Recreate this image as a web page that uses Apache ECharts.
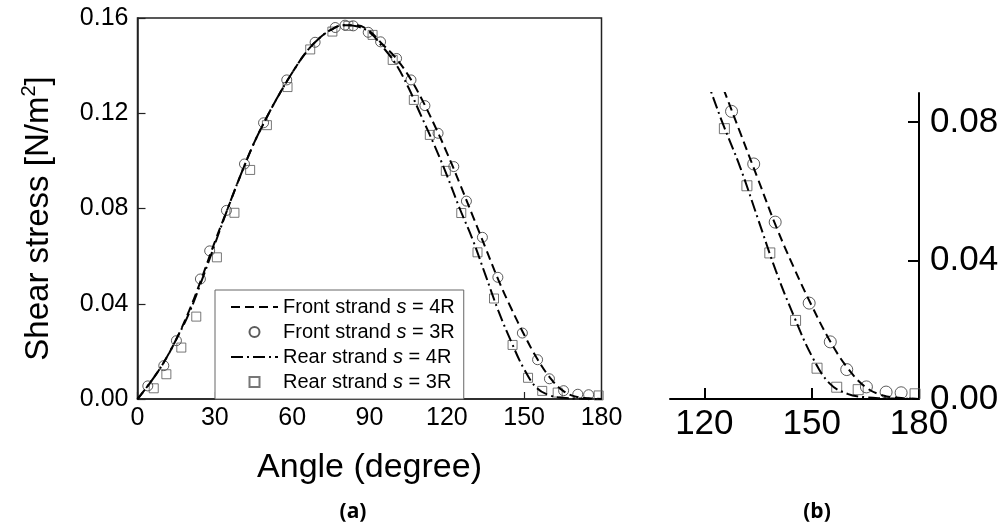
<!DOCTYPE html>
<html><head><meta charset="utf-8">
<script src="https://cdn.jsdelivr.net/npm/echarts@6/dist/echarts.min.js"></script>
<style>html,body{margin:0;padding:0;background:#fff}#c{width:1004px;height:527px}</style>
</head><body><div id="c"></div>
<script>
// ---- data ----
const curveAngles = [0,5,10,15,20,25,30,35,40,45,50,55,60,65,70,75,80,85,90,95,100,105,110,115,120,125,130,135,140,145,150,155,160,165,170,175,180];
const front4R = [0,0.007,0.015,0.025,0.037,0.051,0.066,0.080,0.094,0.107,0.118,0.128,0.137,0.145,0.151,0.155,0.157,0.157,0.1545,0.149,0.1435,0.136,0.1265,0.1155,0.1035,0.0905,0.077,0.0635,0.050,0.038,0.027,0.017,0.009,0.0035,0.001,0.0003,0];
const rear4R  = [0,0.007,0.015,0.025,0.036,0.050,0.065,0.080,0.094,0.107,0.118,0.128,0.137,0.145,0.151,0.155,0.157,0.1565,0.154,0.148,0.141,0.131,0.119,0.107,0.094,0.080,0.067,0.052,0.037,0.024,0.0125,0.0045,0.0015,0.0005,0.0002,0.0001,0];
const front3RAngle = [4.0,10.2,15.1,24.4,28.0,34.5,41.5,48.9,57.9,68.9,76.7,80.5,83.7,89.5,94.3,100.5,106.1,111.5,116.6,122.7,127.6,133.8,139.8,149.3,155.2,159.8,165.3,170.8,175.0];
const front3RValue = [0.0055,0.014,0.0245,0.0504,0.0622,0.0792,0.0987,0.116,0.134,0.1498,0.156,0.157,0.1567,0.154,0.150,0.143,0.134,0.1232,0.1116,0.0976,0.0831,0.0679,0.0511,0.0277,0.0165,0.0085,0.0035,0.002,0.0018];
const rear3RAngle = [6.3,11.2,17.0,22.8,30.8,37.6,43.7,50.2,58.2,67.0,75.6,81.8,91.2,99.0,107.2,113.4,119.6,125.6,131.9,138.3,145.5,151.5,157.0,163.0,178.9];
const rear3RValue = [0.0045,0.0104,0.0216,0.0346,0.0595,0.0782,0.0962,0.115,0.131,0.1468,0.1543,0.1567,0.1529,0.1424,0.1256,0.1109,0.0958,0.0781,0.0616,0.0422,0.0227,0.0089,0.0034,0.0027,0.0015];
const seriesNames = ['Front strand s = 4R','Front strand s = 3R','Rear strand s = 4R','Rear strand s = 3R'];
const xTicksA = [0,30,60,90,120,150,180];
const yTicksA = [0,0.04,0.08,0.12,0.16];
const xTicksB = [120,150,180];
const yTicksB = [0,0.04,0.08];

const FONT = 'Liberation Sans, Arial, sans-serif';
const zip = (a,b) => a.map((v,i)=>[v,b[i]]);
const dashF = [9,5];
const dashR = [12,4,2,4];

function makeSeries(g, big) {
  const cs = big ? 12 : 10, ss = big ? 10 : 9;
  return [
    {name: seriesNames[0], type:'line', xAxisIndex:g, yAxisIndex:g, data: zip(curveAngles, front4R), symbol:'none', smooth:0.4,
     lineStyle:{color:'#000', width:2, type:dashF}, itemStyle:{color:'#000'}, z:3},
    {name: seriesNames[1], type:'scatter', xAxisIndex:g, yAxisIndex:g, data: zip(front3RAngle, front3RValue), symbol:'circle', symbolSize:cs,
     itemStyle:{color:'rgba(0,0,0,0)', borderColor:'#333', borderWidth:1}, z:2},
    {name: seriesNames[2], type:'line', xAxisIndex:g, yAxisIndex:g, data: zip(curveAngles, rear4R), symbol:'none', smooth:0.4,
     lineStyle:{color:'#000', width:2, type:dashR}, itemStyle:{color:'#000'}, z:3},
    {name: seriesNames[3], type:'scatter', xAxisIndex:g, yAxisIndex:g, data: zip(rear3RAngle, rear3RValue), symbol:'rect', symbolSize:ss,
     itemStyle:{color:'rgba(0,0,0,0)', borderColor:'#555', borderWidth:1}, z:2}
  ];
}

const chart = echarts.init(document.getElementById('c'), null, {renderer:'canvas'});
chart.setOption({
  animation:false,
  backgroundColor:'#fff',
  textStyle:{fontFamily:FONT},
  grid:[
    {left:137.5, top:18, width:464, height:381, show:true, borderColor:'#222', borderWidth:1.5, backgroundColor:'rgba(0,0,0,0)'},
    {left:670, top:93, width:249, height:306}
  ],
  xAxis:[
    {type:'value', gridIndex:0, min:0, max:180, interval:30,
     axisLine:{show:true, onZero:false, lineStyle:{color:'#222', width:1.5}},
     axisTick:{show:true, inside:true, length:7, lineStyle:{color:'#222', width:1.2}},
     axisLabel:{fontSize:25, color:'#000', margin:7, fontFamily:FONT},
     splitLine:{show:false},
     name:'Angle (degree)', nameLocation:'middle', nameGap:52,
     nameTextStyle:{fontSize:34, color:'#000', fontFamily:FONT}},
    {type:'value', gridIndex:1, min:110.4, max:180,
     axisLine:{show:true, onZero:false, lineStyle:{color:'#000', width:2}},
     axisTick:{show:true, inside:true, length:11, customValues:xTicksB, lineStyle:{color:'#000', width:2}},
     axisLabel:{fontSize:35, color:'#000', margin:8, customValues:xTicksB, fontFamily:FONT},
     splitLine:{show:false}}
  ],
  yAxis:[
    {type:'value', gridIndex:0, min:0, max:0.16, interval:0.04,
     axisLine:{show:true, onZero:false, lineStyle:{color:'#222', width:1.5}},
     axisTick:{show:true, inside:true, length:8, lineStyle:{color:'#222', width:1.2}},
     axisLabel:{fontSize:25, color:'#000', margin:9, formatter:v=>v.toFixed(2), fontFamily:FONT},
     splitLine:{show:false},
     name:'{a|Shear stress [N/m}{s|2}{a|]}', nameLocation:'middle', nameGap:82, nameRotate:90,
     nameTextStyle:{color:'#000', fontFamily:FONT, padding:[0,20,0,0], rich:{
       a:{fontSize:33, color:'#000', fontFamily:FONT, lineHeight:36, verticalAlign:'bottom'},
       s:{fontSize:20, color:'#000', fontFamily:FONT, lineHeight:36, verticalAlign:'top'}}}},
    {type:'value', gridIndex:1, position:'right', min:0, max:0.0884,
     axisLine:{show:true, onZero:false, lineStyle:{color:'#000', width:2}},
     axisTick:{show:true, inside:true, length:11, customValues:yTicksB, lineStyle:{color:'#000', width:2}},
     axisLabel:{fontSize:35, color:'#000', margin:11, customValues:yTicksB, formatter:v=>v.toFixed(2), fontFamily:FONT},
     splitLine:{show:false}}
  ],
  legend:{
    data:[
      {name:seriesNames[0], itemStyle:{opacity:0}},
      {name:seriesNames[1]},
      {name:seriesNames[2], itemStyle:{opacity:0}},
      {name:seriesNames[3], icon:'path://M0,0H10V10H0Z'}
    ],
    left:215, top:290, orient:'vertical', symbolKeepAspect:true,
    padding:[7,9,7,15], itemGap:5, itemWidth:47, itemHeight:10,
    backgroundColor:'#fff', borderColor:'#666', borderWidth:1, borderRadius:0,
    selectedMode:false,
    formatter: n => { const p = n.split(' s '); return '{n|' + p[0] + ' }{i|s}{n| ' + p[1] + '}'; },
    textStyle:{fontSize:20, color:'#000', fontFamily:FONT, rich:{
      n:{fontSize:20, color:'#000', fontFamily:FONT, lineHeight:20},
      i:{fontSize:20, color:'#000', fontFamily:FONT, fontStyle:'italic', lineHeight:20}}}
  },
  graphic:[
    {type:'text', x:353, y:512, style:{text:'(a)', font:'bold 21px "Open Sans", sans-serif', fill:'#000', textAlign:'center', textVerticalAlign:'middle'}},
    {type:'text', x:817, y:512, style:{text:'(b)', font:'bold 21px "Open Sans", sans-serif', fill:'#000', textAlign:'center', textVerticalAlign:'middle'}}
  ],
  series: makeSeries(0,false).concat(makeSeries(1,true))
});
</script></body></html>
